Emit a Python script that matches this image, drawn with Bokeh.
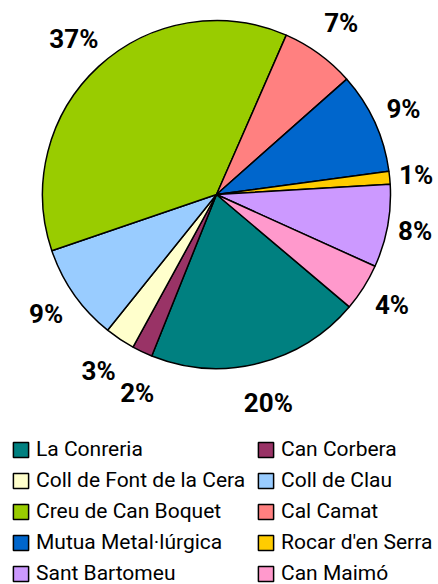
import numpy as np
from bokeh.plotting import figure
from bokeh.models import ColumnDataSource, Range1d, Legend, LegendItem
from bokeh.core.properties import value
from bokeh.embed import file_html
from bokeh.resources import INLINE

# ---- data ----
names = ["La Conreria", "Can Corbera", "Coll de Font de la Cera", "Coll de Clau",
         "Creu de Can Boquet", "Cal Camat", "Mutua Metal·lúrgica", "Rocar d'en Serra",
         "Sant Bartomeu", "Can Maimó"]
shares = [19.9, 1.9, 2.8, 9.0, 36.8, 6.9, 9.4, 1.2, 7.7, 4.4]
colors = ["#008080", "#993366", "#FFFFCC", "#99CCFF", "#99CC00",
          "#FF8080", "#0066CC", "#FFCC00", "#CC99FF", "#FF99CC"]
start_deg = -40.2  # where the first slice begins; slices run clockwise

W, H = 438, 584
cx, cy, r = 216, 390, 174

fr = np.array(shares) / sum(shares)
cum = np.concatenate([[0.0], np.cumsum(fr)])
a_start = np.radians(start_deg) - cum[:-1] * 2 * np.pi
a_end = np.radians(start_deg) - cum[1:] * 2 * np.pi
mid = (a_start + a_end) / 2
labels = [f"{round(v)}%" for v in fr * 100]

# label placement: outside the rim, pushed a bit further at top/bottom,
# with a simple nudge to avoid overlapping neighbours
def box_w(t):
    return 14.6 * (len(t) - 1) + 19.0
BOX_H = 20.0

def place(ang):
    d = r + 25 + 16 * abs(np.sin(ang))
    return cx + d * np.cos(ang), cy + d * np.sin(ang)

lx = [0.0] * len(labels)
ly = [0.0] * len(labels)
placed = []
for i in reversed(range(len(labels))):
    ang = mid[i]
    x, y = place(ang)
    for _ in range(80):
        hit = None
        for j in placed:
            if (abs(x - lx[j]) < (box_w(labels[i]) + box_w(labels[j])) / 2 + 10
                    and abs(y - ly[j]) < BOX_H + 2):
                hit = j
                break
        if hit is None:
            break
        ang += np.radians(0.5)
        x, y = place(ang)
    lx[i], ly[i] = x, y
    placed.append(i)

src = ColumnDataSource(dict(
    name=names, color=colors,
    x=[cx] * len(names), y=[cy] * len(names),
    s=list(a_end), e=list(a_start),
    lx=lx, ly=ly, lab=labels,
))

p = figure(width=W, height=H, x_range=Range1d(0, W), y_range=Range1d(0, H),
           output_backend="svg", toolbar_location=None, min_border=0)
p.axis.visible = False
p.grid.visible = False
p.outline_line_color = None
p.background_fill_color = "white"

wr = p.wedge(x="x", y="y", radius=r, start_angle="s", end_angle="e",
             fill_color="color", line_color="black", line_width=1.5, source=src)

p.text(x="lx", y="ly", text="lab", source=src, text_font=value("Roboto"),
       text_font_style="bold", text_font_size="26px", text_align="center",
       text_baseline="middle", text_color="black")

def make_legend(idxs, x):
    items = [LegendItem(label=names[i], renderers=[wr], index=i) for i in idxs]
    return Legend(items=items, location=(x, -4.5), orientation="vertical",
                  padding=0, margin=0, spacing=0, border_line_color=None,
                  background_fill_alpha=0, glyph_width=19, glyph_height=19,
                  label_height=31, label_standoff=6,
                  label_text_font="Roboto", label_text_font_size="21px",
                  label_text_color="black")

p.add_layout(make_legend([0, 2, 4, 6, 8], 11))
p.add_layout(make_legend([1, 3, 5, 7, 9], 256))

open("out.html", "w").write(file_html(p, INLINE))
